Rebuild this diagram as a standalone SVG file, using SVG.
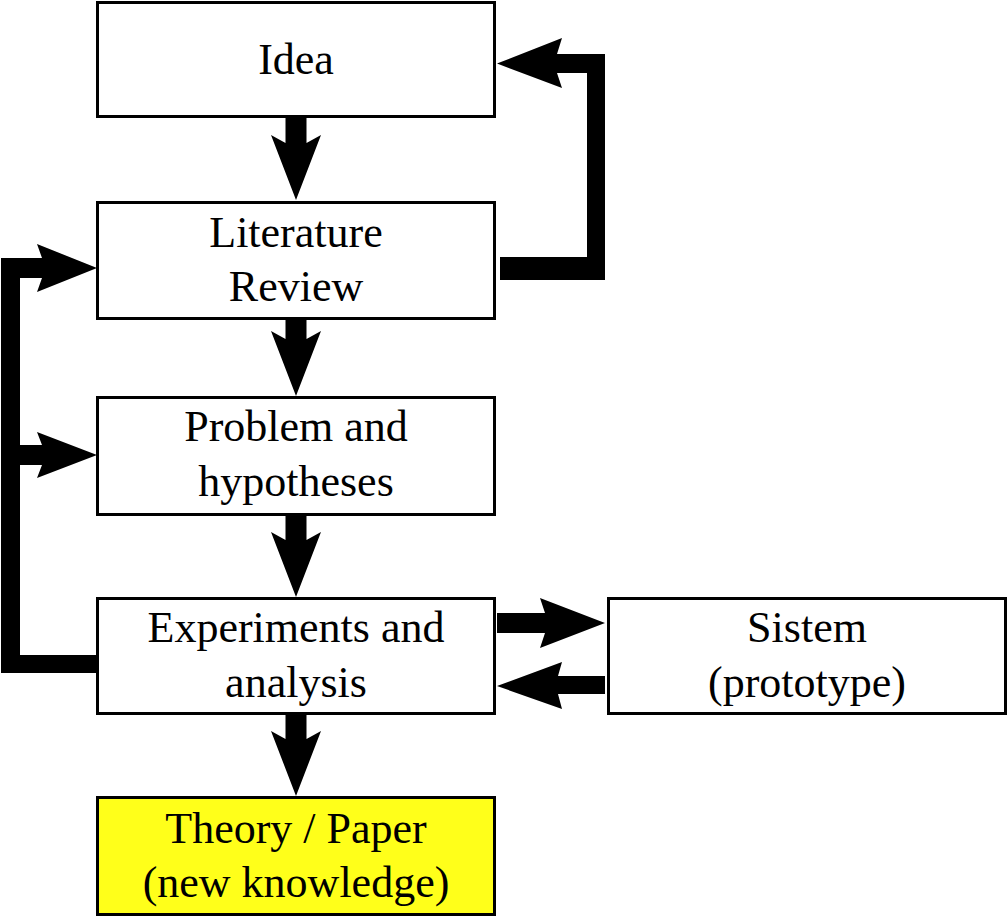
<svg xmlns="http://www.w3.org/2000/svg" width="1008" height="917" viewBox="0 0 1008 917">
<style>
.box{fill:#ffffff;stroke:#000000;stroke-width:3}
.hl{fill:#ffff1a}
.t{font-family:"Liberation Serif","Times New Roman",serif;font-size:44px;fill:#000000;text-anchor:middle}
.arr{fill:#000000;stroke:none}
</style>
<rect width="1008" height="917" fill="#ffffff"/>
<g id="connectors">
<path class="arr" d="M285.5,118 L306.5,118 L306.5,143 L321,135 L296,200 L271,135 L285.5,143 Z"/>
<path class="arr" d="M285.5,320 L306.5,320 L306.5,339 L321,331 L296,396 L271,331 L285.5,339 Z"/>
<path class="arr" d="M285.5,516 L306.5,516 L306.5,540 L321,532 L296,597 L271,532 L285.5,540 Z"/>
<path class="arr" d="M285.5,715 L306.5,715 L306.5,739 L321,731 L296,796 L271,731 L285.5,739 Z"/>
<path class="arr" d="M500,257 L587,257 L587,73 L557,73 L562,88 L497,63.5 L562,38 L557,54 L605,54 L605,280 L500,280 Z"/>
<path class="arr" d="M1,258 L42,258 L37,244 L97,268 L37,292 L42,278 L20,278 L20,445 L42,445 L37,432 L97,455 L37,478 L42,465 L20,465 L20,655 L96,655 L96,673 L1,673 Z"/>
<path class="arr" d="M497,613 L545,613 L540,598 L605,623 L540,648 L545,633 L497,633 Z"/>
<path class="arr" d="M605,676 L558,676 L562,662 L497,686 L562,709 L558,694 L605,694 Z"/>
</g>
<g id="idea">
<rect class="box" x="97.5" y="2.5" width="397" height="114"/>
<text class="t" x="296" y="74">Idea</text>
</g>
<g id="literature">
<rect class="box" x="97.5" y="202.5" width="397" height="116"/>
<text class="t" x="296" y="247">Literature</text>
<text class="t" x="296" y="301">Review</text>
</g>
<g id="problem">
<rect class="box" x="97.5" y="397.5" width="397" height="117"/>
<text class="t" x="296" y="441">Problem and</text>
<text class="t" x="296" y="496">hypotheses</text>
</g>
<g id="experiments">
<rect class="box" x="97.5" y="598.5" width="397" height="115"/>
<text class="t" x="296" y="642">Experiments and</text>
<text class="t" x="296" y="697">analysis</text>
</g>
<g id="sistem">
<rect class="box" x="608.5" y="598.5" width="397" height="115"/>
<text class="t" x="807" y="642">Sistem</text>
<text class="t" x="807" y="697">(prototype)</text>
</g>
<g id="theory">
<rect class="box hl" x="97.5" y="797.5" width="397" height="117"/>
<text class="t" x="296" y="843">Theory / Paper</text>
<text class="t" x="296" y="897">(new knowledge)</text>
</g>
</svg>
